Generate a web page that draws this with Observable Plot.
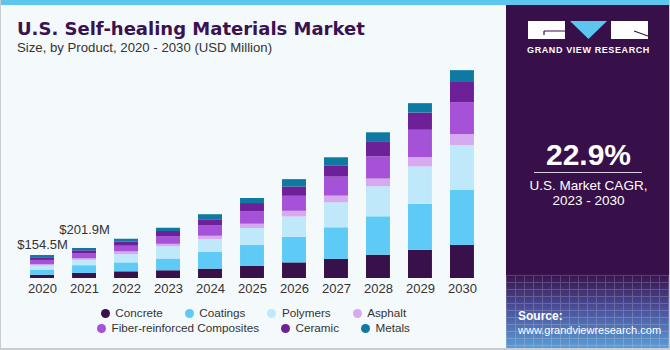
<!DOCTYPE html>
<html>
<head>
<meta charset="utf-8">
<script src="https://cdn.jsdelivr.net/npm/d3@7"></script>
<script src="https://cdn.jsdelivr.net/npm/@observablehq/plot@0.6"></script>
<style>
  html, body { margin: 0; padding: 0; background: #fff; }
  #wrap { position: relative; width: 670px; height: 350px; overflow: hidden; background: #f4f9fc; font-family: "Liberation Sans", Arial, sans-serif; box-sizing: border-box; border-left: 1px solid #c9cdd1; border-bottom: 2px solid #c9cdd1; border-right: 1px solid #c9cdd1; }
  #stripe { position: absolute; left: 0; top: 0; width: 670px; height: 5px; background: #5cc6ef; z-index: 3; }
  #title { position: absolute; left: 16px; top: 18px; font-family: "DejaVu Sans", sans-serif; font-size: 18px; font-weight: bold; color: #3b1250; white-space: nowrap; }
  #subtitle { position: absolute; left: 16px; top: 40px; font-size: 13.2px; color: #333; white-space: nowrap; }
  #chart { position: absolute; left: 0; top: 0; }
  #legend { position: absolute; left: 0; top: 306px; width: 505px; font-size: 11.7px; color: #333; }
  .row { display: flex; justify-content: center; gap: 22px; height: 14.7px; line-height: 14.7px; }
  .item { display: flex; align-items: center; white-space: nowrap; }
  .dot { width: 9px; height: 9px; border-radius: 50%; margin-right: 5.5px; }
  #panel { position: absolute; left: 505px; top: 0; width: 165px; height: 350px;
    background: linear-gradient(to bottom, #381049 0%, #381049 78%, #4a4f99 88%, #5d9fd8 100%); color: #fff; }
  #grid { position: absolute; left: 0; top: 275px; width: 165px; height: 75px; opacity: 0.18;
    background-image: repeating-linear-gradient(to right, #fff 0 1px, transparent 1px 9px), repeating-linear-gradient(to bottom, #fff 0 1px, transparent 1px 7px); }
  #logo { position: absolute; left: 0; top: 0; }
  #gvr { position: absolute; left: 0; width: 165px; top: 45px; text-align: center; font-size: 9px; font-weight: bold; letter-spacing: 0.6px; }
  #cagr { position: absolute; left: 0; width: 165px; top: 138px; text-align: center; font-size: 30px; font-weight: bold; }
  #line { position: absolute; left: 28px; width: 108px; top: 172px; height: 1px; background: #d8d0de; }
  #cagrtxt { position: absolute; left: 0; width: 165px; top: 178px; text-align: center; font-size: 13.5px; line-height: 15px; }
  #source { position: absolute; left: 12px; top: 309px; font-size: 11px; line-height: 14px; }
  #source b { font-size: 12px; }
</style>
</head>
<body>
<div id="wrap">
  <div id="stripe"></div>
  <div id="chart"></div>
  <div id="title">U.S. Self-healing Materials Market</div>
  <div id="subtitle">Size, by Product, 2020 - 2030 (USD Million)</div>
  <div id="legend"></div>
  <div id="panel">
    <div id="grid"></div>
    <svg id="logo" width="165" height="45">
      <rect x="22" y="21" width="37" height="18" fill="#fff"/>
      <path d="M38 31 H59 M38 31 V35" stroke="#381049" stroke-width="1.2" fill="none"/>
      <polygon points="64,21 101,21 82.5,39" fill="#5cc6ef"/>
      <rect x="105" y="21" width="37" height="18" fill="#fff"/>
      <path d="M128 31 L142 36" stroke="#381049" stroke-width="1.2" fill="none"/>
    </svg>
    <div id="gvr">GRAND VIEW RESEARCH</div>
    <div id="cagr">22.9%</div>
    <div id="line"></div>
    <div id="cagrtxt">U.S. Market CAGR,<br>2023 - 2030</div>
    <div id="source"><b>Source:</b><br>www.grandviewresearch.com</div>
  </div>
</div>
<script>
const years = ["2020","2021","2022","2023","2024","2025","2026","2027","2028","2029","2030"];
const products = ["Concrete","Coatings","Polymers","Asphalt","Fiber-reinforced Composites","Ceramic","Metals"];
const colors = ["#38104a","#5ecbf6","#bfe9fa","#d7a9ee","#a552d8","#6d2098","#0e79a1"];
const concrete = [22, 34, 45, 52, 63, 83, 105, 128, 157, 190, 222];
const coatings = [35, 52, 60, 79, 112, 141, 172, 213, 258, 309, 370];
const polymers = [27, 36, 56, 83, 87, 112, 137, 168, 202, 251, 302];
const asphalt = [9, 11, 18, 16, 22, 29, 38, 45, 52, 63, 74];
const fiber = [28.5, 31.5, 38, 52, 69, 85, 101, 128, 150, 184, 215];
const ceramic = [18, 22, 29, 34, 42, 54, 63, 76, 101, 116, 141];
const metals = [15, 15.4, 18, 22, 34, 34, 49, 54, 60, 63, 74];
const labelYears = ["2020","2021"];
const labelValues = [154.5, 201.9];
const labelTexts = ["$154.5M","$201.9M"];

const series = [concrete, coatings, polymers, asphalt, fiber, ceramic, metals];
const data = [];
series.forEach((arr, i) => arr.forEach((v, j) => data.push({year: years[j], product: products[i], value: v})));
const labels = labelYears.map((y, i) => ({year: y, value: labelValues[i], text: labelTexts[i]}));

const chart = Plot.plot({
  width: 505,
  height: 300,
  marginLeft: 11,
  marginRight: 14,
  marginTop: 55,
  marginBottom: 22,
  style: {background: "transparent", fontFamily: "Liberation Sans, Arial, sans-serif"},
  x: {domain: years, padding: 0.43, round: false, label: null},
  y: {domain: [0, 1500], axis: null},
  color: {domain: products, range: colors},
  marks: [
    Plot.barY(data, {x: "year", y: "value", fill: "product", order: null}),
    Plot.text(labels.slice(0,1), {x: "year", y: "value", text: "text", dy: -11, fontSize: 13, fill: "#333"}),
    Plot.text(labels.slice(1,2), {x: "year", y: "value", text: "text", dy: -19, fontSize: 13, fill: "#333"}),
    Plot.axisX({tickSize: 0, tickPadding: 5, fontSize: 13, color: "#333", label: null})
  ]
});
document.getElementById("chart").appendChild(chart);

const legend = document.getElementById("legend");
const rows = [[0,1,2,3],[4,5,6]];
rows.forEach(r => {
  const row = document.createElement("div");
  row.className = "row";
  r.forEach(i => {
    const it = document.createElement("div");
    it.className = "item";
    it.innerHTML = `<span class="dot" style="background:${colors[i]}"></span>${products[i]}`;
    row.appendChild(it);
  });
  legend.appendChild(row);
});
</script>
</body>
</html>
